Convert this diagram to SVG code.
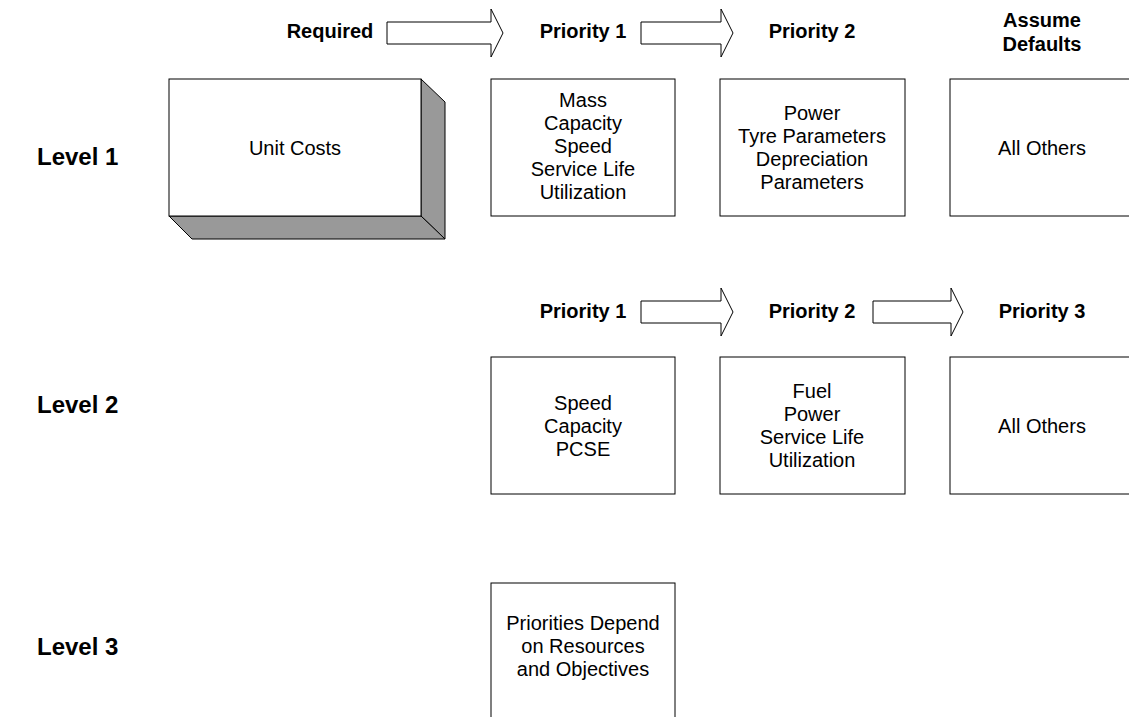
<svg xmlns="http://www.w3.org/2000/svg" width="1129" height="717" viewBox="0 0 1129 717">
<style>
.box{fill:#ffffff;stroke:#000000;stroke-width:1}
.shade{fill:#999999;stroke:#000000;stroke-width:1;stroke-linejoin:miter}
.arrow{fill:#ffffff;stroke:#000000;stroke-width:1}
.t{font-family:"Liberation Sans",Arial,sans-serif;font-size:20px;fill:#000000;text-anchor:middle}
.h{font-family:"Liberation Sans",Arial,sans-serif;font-size:20px;font-weight:bold;fill:#000000;text-anchor:middle}
.lv{font-family:"Liberation Sans",Arial,sans-serif;font-size:24px;font-weight:bold;fill:#000000}
</style>
<rect width="1129" height="717" fill="#ffffff"/>
<g id="labels">
<text class="lv" x="37" y="165">Level 1</text>
<text class="lv" x="37" y="413">Level 2</text>
<text class="lv" x="37" y="655">Level 3</text>
<text class="h" x="330" y="38">Required</text>
<text class="h" x="583" y="38">Priority 1</text>
<text class="h" x="812" y="38">Priority 2</text>
<text class="h" x="1042" y="27">Assume</text>
<text class="h" x="1042" y="51">Defaults</text>
<text class="h" x="583" y="318">Priority 1</text>
<text class="h" x="812" y="318">Priority 2</text>
<text class="h" x="1042" y="318">Priority 3</text>
</g>
<g id="connectors">
<polygon class="arrow" points="387,22 491,22 491,9 503,33 491,57 491,44 387,44"/>
<polygon class="arrow" points="641,22 721,22 721,9 733,33 721,57 721,44 641,44"/>
<polygon class="arrow" points="641,301 721,301 721,288 733,312 721,336 721,323 641,323"/>
<polygon class="arrow" points="873,301 951,301 951,288 963,312 951,336 951,323 873,323"/>
</g>
<g id="unit-costs">
<polygon class="shade" points="421,79 445,102 445,239 421,216"/>
<polygon class="shade" points="169,216 421,216 445,239 192,239"/>
<rect class="box" x="169" y="79" width="252" height="137"/>
<text class="t" x="295" y="155">Unit Costs</text>
</g>
<g id="l1-priority1">
<rect class="box" x="491" y="79" width="184" height="137"/>
<text class="t" x="583" y="107">Mass</text>
<text class="t" x="583" y="130">Capacity</text>
<text class="t" x="583" y="153">Speed</text>
<text class="t" x="583" y="176">Service Life</text>
<text class="t" x="583" y="199">Utilization</text>
</g>
<g id="l1-priority2">
<rect class="box" x="720" y="79" width="185" height="137"/>
<text class="t" x="812" y="120">Power</text>
<text class="t" x="812" y="143">Tyre Parameters</text>
<text class="t" x="812" y="166">Depreciation</text>
<text class="t" x="812" y="189">Parameters</text>
</g>
<g id="l1-defaults">
<rect class="box" x="950" y="79" width="185" height="137"/>
<text class="t" x="1042" y="155">All Others</text>
</g>
<g id="l2-priority1">
<rect class="box" x="491" y="357" width="184" height="137"/>
<text class="t" x="583" y="410">Speed</text>
<text class="t" x="583" y="433">Capacity</text>
<text class="t" x="583" y="456">PCSE</text>
</g>
<g id="l2-priority2">
<rect class="box" x="720" y="357" width="185" height="137"/>
<text class="t" x="812" y="398">Fuel</text>
<text class="t" x="812" y="421">Power</text>
<text class="t" x="812" y="444">Service Life</text>
<text class="t" x="812" y="467">Utilization</text>
</g>
<g id="l2-priority3">
<rect class="box" x="950" y="357" width="185" height="137"/>
<text class="t" x="1042" y="433">All Others</text>
</g>
<g id="l3-box">
<rect class="box" x="491" y="583" width="184" height="140"/>
<text class="t" x="583" y="630">Priorities Depend</text>
<text class="t" x="583" y="653">on Resources</text>
<text class="t" x="583" y="676">and Objectives</text>
</g>
</svg>
